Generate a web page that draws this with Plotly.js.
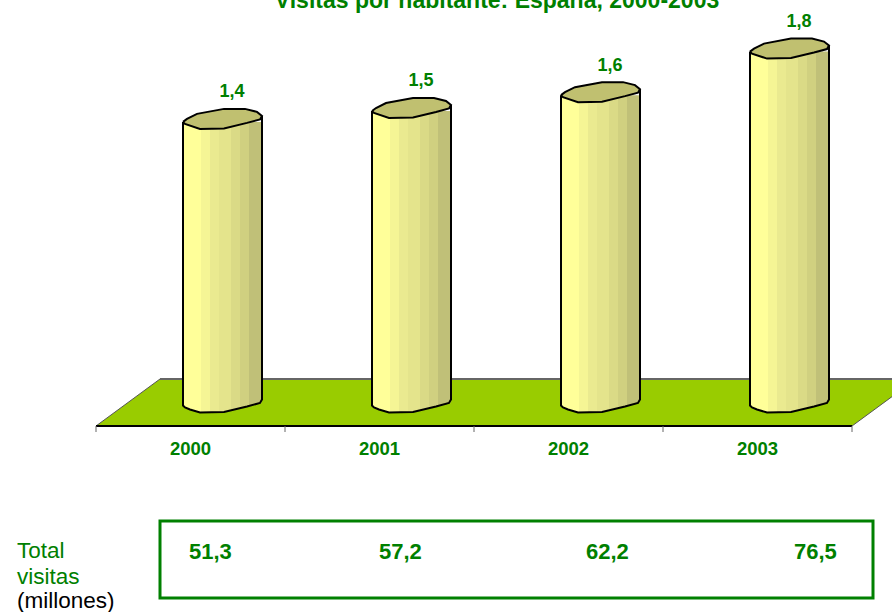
<!DOCTYPE html>
<html><head><meta charset="utf-8">
<script src="https://cdn.plot.ly/plotly-3.0.1.min.js"></script>
<style>html,body{margin:0;padding:0;background:#fff}#c{width:892px;height:612px}</style></head>
<body><div id="c"></div>
<script>
// ---- data ----
const years = ['2000','2001','2002','2003'];
const visitsPerInhabitant = [1.44, 1.495, 1.575, 1.795];
const visitLabels = ['1,4','1,5','1,6','1,8'];
const totalVisits = ['51,3','57,2','62,2','76,5'];

// ---- style / geometry ----
const W=892,H=612, FONT='"Liberation Sans", Arial, sans-serif', GREEN='#008000';
const pxPerCat=189, pxPerUnit=198, axisLeftPx=96, basePx=407, frontPx=426, backPx=379;
const barDepthPx=87, barWidthPx=79, bottomLiftPx=1.5;
const px2x=p=>(p-axisLeftPx)/pxPerCat, dx=p=>p/pxPerCat, dy=p=>p/pxPerUnit, px2y=p=>(basePx-p)/pxPerUnit;
// colour bands across a cylinder [end offset px, colour]
const bands=[[18,'#FFFF99'],[26,'#F5F595'],[36,'#EAEA90'],[48,'#E4E48C'],[58,'#DADA86'],[66,'#D0D080'],[79,'#C0C078']];
// elliptical section outline, px offset from left end of the section
const capBack=[[0,0],[4,-3],[14,-8],[41,-13],[62,-13],[74,-10],[79,-6]];
const capFront=[[79,-6],[77,-2.5],[64,1],[41,6.5],[17,7],[7,4],[2,2],[0,0]];
const frontAt=o=>{const f=capFront.slice().reverse();
  for(let i=1;i<f.length;i++){ if(o<=f[i][0]){const a=f[i-1],b=f[i];return a[1]+(b[1]-a[1])*(o-a[0])/(b[0]-a[0]);}} return -6;};

const traces=[];
const xs=years.map((_,i)=>i);
// cylinder bodies: one bar trace per narrow strip
for(let o=0;o<barWidthPx;o+=3){
  const w=Math.min(3,barWidthPx-o);
  const colour=bands.find(b=>o+w/2<=b[0])[1];
  const base=-dy(frontAt(o+w/2)-bottomLiftPx);
  traces.push({type:'bar',x:xs,y:visitsPerInhabitant.map(v=>v-base),base:xs.map(()=>base),
    width:xs.map(()=>dx(w+0.4)),offset:xs.map(()=>dx(barDepthPx+o)),
    marker:{color:colour,line:{width:0}},hoverinfo:'skip',showlegend:false});
}
// cylinder outlines and caps
visitsPerInhabitant.forEach((v,i)=>{
  const X=o=>i+dx(barDepthPx+o);
  const front=capFront;
  // sides and bottom edge
  const ox=[X(0)],oy=[v];
  [...front].reverse().forEach(p=>{ox.push(X(p[0]));oy.push(-dy(p[1]-bottomLiftPx));});
  ox.push(X(barWidthPx));oy.push(v-dy(-6));
  traces.push({type:'scatter',mode:'lines',x:ox,y:oy,line:{color:'#000',width:2},hoverinfo:'skip',showlegend:false});
  // top section
  const ring=[...capBack,...front.slice(1)];
  traces.push({type:'scatter',mode:'lines',x:ring.map(p=>X(p[0])),y:ring.map(p=>v-dy(p[1])),
    fill:'toself',fillcolor:'#C0C070',line:{color:'#000',width:2},hoverinfo:'skip',showlegend:false});
});
// value labels above the cylinders
traces.push({type:'scatter',mode:'text',x:xs.map(i=>i+dx(barDepthPx+49)),
  y:visitsPerInhabitant.map(v=>v+dy(29)),text:visitLabels,textposition:'middle center',
  textfont:{family:FONT,size:18,color:GREEN,weight:700},hoverinfo:'skip',showlegend:false,cliponaxis:false});

const floor=`M ${px2x(96)} ${px2y(frontPx)} L ${px2x(852)} ${px2y(frontPx)} L ${px2x(916)} ${px2y(backPx)} L ${px2x(160)} ${px2y(backPx)} Z`;
const shapes=[
 {type:'path',xref:'x',yref:'y',path:floor,fillcolor:'#99CC00',line:{width:0},layer:'below'},
 {type:'line',xref:'x',yref:'y',x0:px2x(160),x1:px2x(916),y0:px2y(backPx),y1:px2y(backPx),line:{color:'#666',width:2},layer:'below'},
 {type:'line',xref:'x',yref:'y',x0:px2x(96),x1:px2x(160),y0:px2y(frontPx),y1:px2y(backPx),line:{color:'#555',width:1},layer:'below'},
 {type:'line',xref:'x',yref:'y',x0:px2x(852),x1:px2x(916),y0:px2y(frontPx),y1:px2y(backPx),line:{color:'#555',width:1},layer:'below'},
 {type:'line',xref:'paper',yref:'paper',x0:96/W,x1:852/W,y0:1-frontPx/H,y1:1-frontPx/H,line:{color:'#000',width:2}},
 {type:'rect',xref:'paper',yref:'paper',x0:160/W,x1:873/W,y0:1-521/H,y1:1-598/H,line:{color:GREEN,width:3},fillcolor:'rgba(0,0,0,0)'}
];
[0,1,2,3,4].forEach(i=>shapes.push({type:'line',xref:'paper',yref:'paper',x0:(96+i*189)/W,x1:(96+i*189)/W,
  y0:1-frontPx/H,y1:1-432/H,line:{color:'#666',width:1}}));

const ann=(t,x,y,o)=>Object.assign({text:t,xref:'paper',yref:'paper',x:x/W,y:1-y/H,showarrow:false,xanchor:'center',yanchor:'middle',
  font:{family:FONT,size:22,color:GREEN,weight:700}},o||{});
const valueCentres=[210.5,400,607.5,815];
const annotations=totalVisits.map((t,i)=>ann(t,valueCentres[i],551));
annotations.push(ann('Total',15,550,{xanchor:'left',font:{family:FONT,size:22.5,color:GREEN}}));
annotations.push(ann('visitas',15,576,{xanchor:'left',font:{family:FONT,size:22.5,color:GREEN}}));
annotations.push(ann('(millones)',15,600,{xanchor:'left',font:{family:FONT,size:22.5,color:'#000'}}));

const layout={width:W,height:H,margin:{l:0,r:0,t:0,b:0,pad:0},paper_bgcolor:'#fff',plot_bgcolor:'rgba(0,0,0,0)',
 showlegend:false,barmode:'overlay',
 title:{text:'Visitas por habitante: España, 2000-2003',x:497/W,xanchor:'center',y:1,yanchor:'middle',yref:'container',
   font:{family:FONT,size:23,color:GREEN,weight:700}},
 xaxis:{range:[px2x(0),px2x(W)],domain:[0,1],tickmode:'array',tickvals:years.map((_,i)=>i+0.5),ticktext:years,
   showgrid:false,zeroline:false,showline:false,ticks:'outside',ticklen:6,tickcolor:'rgba(0,0,0,0)',
   tickfont:{family:FONT,size:18.5,color:GREEN,weight:700},fixedrange:true},
 yaxis:{range:[px2y(frontPx),px2y(0)],domain:[1-frontPx/H,1],visible:false,fixedrange:true},
 shapes,annotations};
Plotly.newPlot('c',traces,layout,{displayModeBar:false,staticPlot:true});
</script></body></html>
